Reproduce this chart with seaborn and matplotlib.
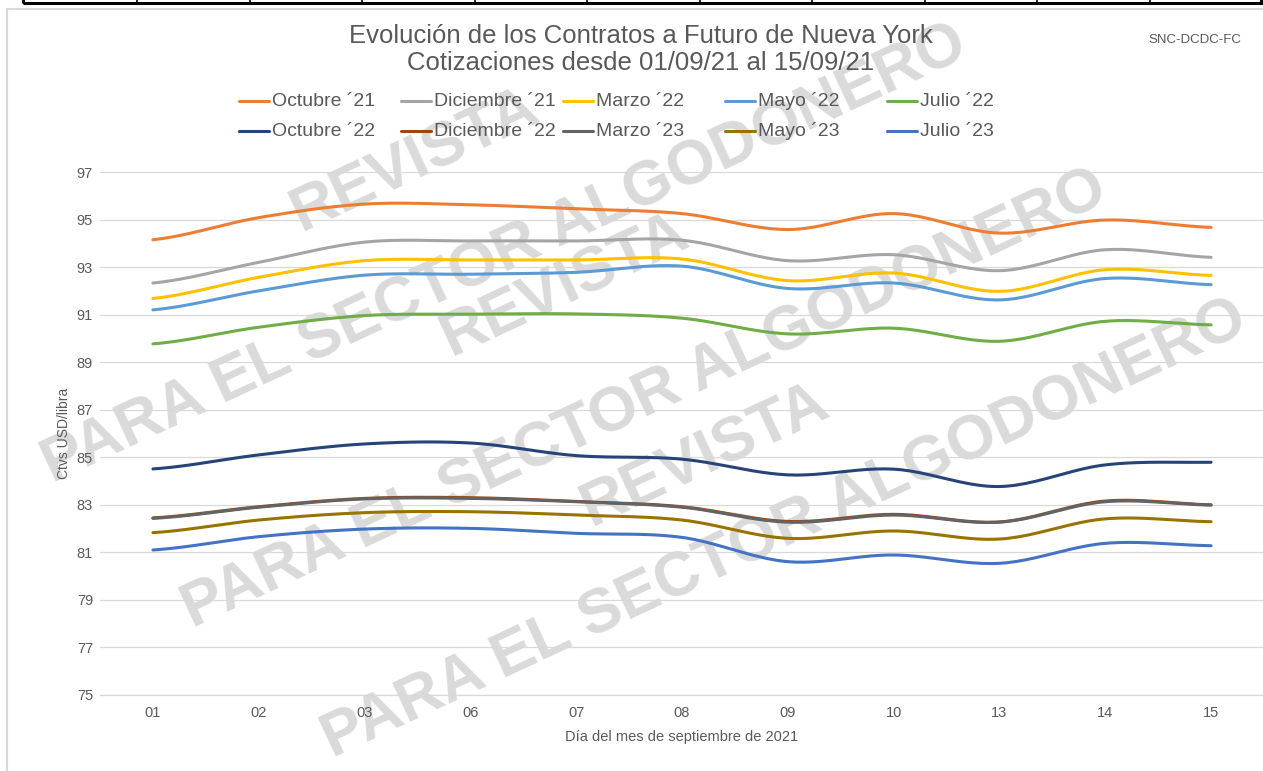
"""
Evolución de los Contratos a Futuro de Nueva York (01/09/21 - 15/09/21)
Recreación del gráfico de Excel con seaborn / matplotlib.
"""

import matplotlib
matplotlib.use("Agg")
import matplotlib.pyplot as plt
from matplotlib.lines import Line2D
from matplotlib.patches import Rectangle
import numpy as np
import pandas as pd
import seaborn as sns

# --- datos (ctvs USD/libra) ---
DIAS = ["01", "02", "03", "06", "07", "08", "09", "10", "13", "14", "15"]

OCT_21 = [94.15, 95.08, 95.65, 95.62, 95.45, 95.25, 94.58, 95.25, 94.43, 94.98, 94.67]
DIC_21 = [92.33, 93.20, 94.05, 94.10, 94.10, 94.13, 93.27, 93.52, 92.85, 93.73, 93.41]
MAR_22 = [91.68, 92.57, 93.27, 93.30, 93.30, 93.34, 92.43, 92.75, 91.98, 92.89, 92.65]
MAY_22 = [91.20, 92.00, 92.66, 92.70, 92.78, 93.04, 92.10, 92.33, 91.62, 92.52, 92.26]
JUL_22 = [89.77, 90.47, 90.96, 91.02, 91.03, 90.85, 90.19, 90.43, 89.88, 90.72, 90.57]
OCT_22 = [84.51, 85.10, 85.56, 85.60, 85.07, 84.92, 84.26, 84.50, 83.77, 84.68, 84.79]
DIC_22 = [82.45, 82.92, 83.27, 83.30, 83.14, 82.92, 82.30, 82.60, 82.28, 83.16, 83.00]
MAR_23 = [82.43, 82.90, 83.25, 83.27, 83.13, 82.90, 82.27, 82.57, 82.27, 83.13, 82.99]
MAY_23 = [81.83, 82.36, 82.67, 82.71, 82.57, 82.36, 81.59, 81.90, 81.56, 82.41, 82.29]
JUL_23 = [81.10, 81.66, 81.98, 82.01, 81.80, 81.63, 80.61, 80.89, 80.54, 81.38, 81.28]

NOMBRES = ["Octubre ´21", "Diciembre ´21", "Marzo ´22", "Mayo ´22", "Julio ´22",
           "Octubre ´22", "Diciembre ´22", "Marzo ´23", "Mayo ´23", "Julio ´23"]
VALORES = [OCT_21, DIC_21, MAR_22, MAY_22, JUL_22, OCT_22, DIC_22, MAR_23, MAY_23, JUL_23]
COLORES = ["#ED7D31", "#A5A5A5", "#FFC000", "#5B9BD5", "#70AD47",
           "#264478", "#9E480E", "#636363", "#997300", "#4472C4"]

W, H = 1263, 771
GRIS = "#595959"


def fx(px):
    return px / W


def fy(py):
    return 1 - py / H


def suavizar(y, n=24):
    # linea suavizada tipo Excel (Catmull-Rom entre puntos)
    y = np.asarray(y, dtype=float)
    p = np.concatenate([[y[0]], y, [y[-1]]])
    t = np.linspace(0, 1, n, endpoint=False)
    xs, ys = [], []
    for i in range(len(y) - 1):
        p0, p1, p2, p3 = p[i], p[i + 1], p[i + 2], p[i + 3]
        seg = 0.5 * (2 * p1 + (p2 - p0) * t + (2 * p0 - 5 * p1 + 4 * p2 - p3) * t ** 2
                     + (3 * p1 - p0 - 3 * p2 + p3) * t ** 3)
        xs.append(i + t)
        ys.append(seg)
    xs.append([len(y) - 1])
    ys.append([y[-1]])
    return np.concatenate(xs), np.concatenate(ys)


def main() -> None:
    sns.set_style("white")
    plt.rcParams["font.family"] = ["Liberation Sans", "DejaVu Sans"]

    filas = []
    for nombre, vals in zip(NOMBRES, VALORES):
        xs, ys = suavizar(vals)
        filas.append(pd.DataFrame({"x": xs, "y": ys, "serie": nombre}))
    df = pd.concat(filas, ignore_index=True)

    fig = plt.figure(figsize=(W / 100, H / 100), dpi=100)
    ax = fig.add_axes([fx(100), fy(695), (1264 - 100) / W, (695 - 172) / H])
    ax.set_facecolor("none")

    sns.lineplot(data=df, x="x", y="y", hue="serie", hue_order=NOMBRES,
                 palette=dict(zip(NOMBRES, COLORES)), estimator=None, sort=False,
                 legend=False, linewidth=2.2, ax=ax, zorder=3)

    ax.set_xlim(-0.5, len(DIAS) - 0.5)
    ax.set_ylim(75, 97)
    ax.set_xticks(range(len(DIAS)))
    ax.set_xticklabels(DIAS)
    ax.set_yticks(range(75, 98, 2))
    ax.yaxis.grid(True, color="#d9d9d9", linewidth=0.9)
    ax.set_axisbelow(True)
    for lado in ["left", "right", "top"]:
        ax.spines[lado].set_visible(False)
    ax.spines["bottom"].set_color("#d9d9d9")
    ax.spines["bottom"].set_linewidth(0.9)
    ax.tick_params(axis="both", length=0, colors=GRIS, labelsize=10.5)
    ax.tick_params(axis="y", pad=5)
    ax.tick_params(axis="x", pad=8)
    ax.set_xlabel("Día del mes de septiembre de 2021", fontsize=10.5, color=GRIS, labelpad=7)
    ax.set_ylabel("Ctvs USD/libra", fontsize=10, color=GRIS, labelpad=4)

    # marca de agua (debajo de textos y lineas)
    marca = dict(transform=fig.transFigure, rotation=25, rotation_mode="anchor",
                 ha="center", va="center", fontsize=45, fontweight="bold",
                 color="#dadada", zorder=0.2, clip_on=False)
    for (rx, ry), (px, py) in [((415, 160), (505, 255)),
                                ((565, 285), (645, 400)),
                                ((705, 455), (785, 530))]:
        ax.text(fx(rx), fy(ry), "REVISTA", **marca)
        ax.text(fx(px), fy(py), "PARA EL SECTOR ALGODONERO", **marca)

    # titulo
    fig.text(fx(641), fy(36), "Evolución de los Contratos a Futuro de Nueva York",
             ha="center", va="center", fontsize=18.5, color=GRIS)
    fig.text(fx(641), fy(63), "Cotizaciones desde 01/09/21 al 15/09/21",
             ha="center", va="center", fontsize=18.5, color=GRIS)
    fig.text(fx(1195), fy(40), "SNC-DCDC-FC", ha="center", va="center",
             fontsize=9.5, color=GRIS)

    # leyenda (columnas de ancho fijo como en Excel)
    for i, (nombre, color) in enumerate(zip(NOMBRES, COLORES)):
        x0 = 239 + 162 * (i % 5)
        y0 = 101 + 30 * (i // 5)
        fig.add_artist(Line2D([fx(x0), fx(x0 + 30)], [fy(y0), fy(y0)],
                              transform=fig.transFigure, color=color, linewidth=2.2))
        fig.text(fx(x0 + 33), fy(y0), nombre, ha="left", va="center",
                 fontsize=14, color=GRIS)

    # borde del area del grafico y franja superior
    fig.add_artist(Rectangle((fx(7), -0.05), 1.1, fy(9) + 0.05, transform=fig.transFigure,
                             fill=False, edgecolor="#d9d9d9", linewidth=1.5))
    fig.add_artist(Rectangle((fx(23), fy(2.5)), (1261 - 23) / W, 0.05,
                             transform=fig.transFigure, fill=False,
                             edgecolor="black", linewidth=2.2))
    for k in range(10):
        xd = 137 + 112.5 * k
        fig.add_artist(Line2D([fx(xd), fx(xd)], [fy(2.5), 1.01],
                              transform=fig.transFigure, color="black", linewidth=1.2))

    fig.savefig("out.png", dpi=100)
    plt.close(fig)


if __name__ == "__main__":
    main()
